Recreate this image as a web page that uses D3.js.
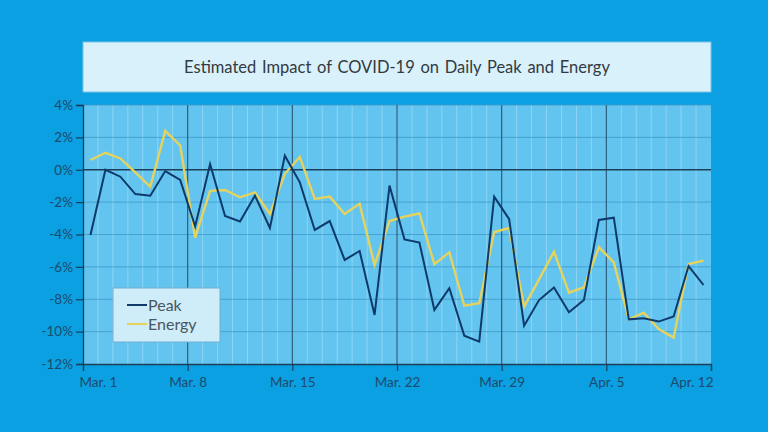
<!DOCTYPE html>
<html>
<head>
<meta charset="utf-8">
<script src="https://cdn.jsdelivr.net/npm/d3@7"></script>
<style>
  body { margin: 0; background: #0AA0E1; }
  text { font-family: Lato, "Open Sans", sans-serif; }
</style>
</head>
<body>
<script>
// Chart data (percent change vs. expected), one value per day, Mar. 1 - Apr. 11
var titleText = "Estimated Impact of COVID-19 on Daily Peak and Energy";
var seriesNames = ["Peak", "Energy"];
var weekLabels = ["Mar. 1", "Mar. 8", "Mar. 15", "Mar. 22", "Mar. 29", "Apr. 5", "Apr. 12"];
var yTicks = [4, 2, 0, -2, -4, -6, -8, -10, -12];

var peak = [
  -4.03, 0.0, -0.43, -1.5, -1.6, -0.08, -0.63,
  -3.5, 0.34, -2.86, -3.2, -1.6, -3.6, 0.87,
  -0.78, -3.72, -3.17, -5.57, -5.02, -8.97, -0.98,
  -4.3, -4.5, -8.66, -7.32, -10.25, -10.62, -1.66,
  -3.05, -9.63, -8.05, -7.28, -8.8, -8.05, -3.1,
  -2.96, -9.24, -9.18, -9.38, -9.07, -5.95, -7.12
];
var energy = [
  0.6, 1.05, 0.7, -0.16, -1.05, 2.4, 1.5,
  -4.2, -1.3, -1.25, -1.7, -1.4, -2.73, -0.25,
  0.79, -1.8, -1.66, -2.73, -2.1, -5.88, -3.17,
  -2.9, -2.7, -5.84, -5.1, -8.4, -8.25, -3.85,
  -3.6, -8.46, -6.77, -5.06, -7.59, -7.26, -4.79,
  -5.72, -9.24, -8.83, -9.84, -10.37, -5.82, -5.61
];

// SVG area
var svgWidth = 768;
var svgHeight = 432;
var plot = { left: 83, right: 711, top: 105, bottom: 364 };

var svg = d3.select("body")
  .append("svg")
  .attr("width", svgWidth)
  .attr("height", svgHeight);

svg.append("rect")
  .attr("width", svgWidth)
  .attr("height", svgHeight)
  .attr("fill", "#0AA0E1");

// Title box
svg.append("rect")
  .attr("x", plot.left)
  .attr("y", 42)
  .attr("width", plot.right - plot.left)
  .attr("height", 50)
  .attr("fill", "#D9F1FB")
  .attr("stroke", "#7CC3E6")
  .attr("stroke-width", 1);

svg.append("text")
  .attr("x", (plot.left + plot.right) / 2)
  .attr("y", 73)
  .attr("text-anchor", "middle")
  .attr("font-size", 16.5)
  .attr("fill", "#333a40")
  .attr("word-spacing", 1.5)
  .text(titleText);

// Scales: one band per day, grid lines on the day boundaries
var nDays = peak.length;
var x = d3.scaleLinear().domain([0, nDays]).range([plot.left, plot.right]);
var y = d3.scaleLinear().domain([-12, 4]).range([plot.bottom, plot.top]);

// Plot background
svg.append("rect")
  .attr("x", plot.left)
  .attr("y", plot.top)
  .attr("width", plot.right - plot.left)
  .attr("height", plot.bottom - plot.top)
  .attr("fill", "#63C4EF");

// daily gridlines (light)
svg.append("g")
  .selectAll("line")
  .data(d3.range(1, nDays))
  .enter()
  .append("line")
  .attr("x1", function(d) { return x(d); })
  .attr("x2", function(d) { return x(d); })
  .attr("y1", plot.top)
  .attr("y2", plot.bottom)
  .attr("stroke", "#ffffff")
  .attr("stroke-opacity", 0.28)
  .attr("stroke-width", 1);

// horizontal gridlines at each 2%
svg.append("g")
  .selectAll("line")
  .data(yTicks.filter(function(d) { return d !== 0 && d !== -12; }))
  .enter()
  .append("line")
  .attr("x1", plot.left)
  .attr("x2", plot.right)
  .attr("y1", function(d) { return y(d); })
  .attr("y2", function(d) { return y(d); })
  .attr("stroke", "#3E9ACB")
  .attr("stroke-opacity", 0.8)
  .attr("stroke-width", 1);

// weekly lines (dark)
var weekIdx = weekLabels.map(function(d, i) { return i * 7; });
svg.append("g")
  .selectAll("line")
  .data(weekIdx.slice(1, weekIdx.length - 1))
  .enter()
  .append("line")
  .attr("x1", function(d) { return x(d); })
  .attr("x2", function(d) { return x(d); })
  .attr("y1", plot.top)
  .attr("y2", plot.bottom)
  .attr("stroke", "#2B5B7C")
  .attr("stroke-width", 1.2);

// zero line
svg.append("line")
  .attr("x1", plot.left)
  .attr("x2", plot.right)
  .attr("y1", y(0))
  .attr("y2", y(0))
  .attr("stroke", "#1C3E58")
  .attr("stroke-width", 1.5);

// Y axis
var yAxis = d3.axisLeft(y)
  .tickValues(yTicks)
  .tickSize(7)
  .tickPadding(3)
  .tickFormat(function(d) { return d + "%"; });

var yG = svg.append("g")
  .attr("transform", "translate(" + plot.left + ",0)")
  .call(yAxis);
yG.select(".domain").attr("stroke", "#1C3E58").attr("stroke-width", 1.3);
yG.selectAll(".tick line").attr("stroke", "#1C3E58").attr("stroke-width", 1.2);
yG.selectAll(".tick text")
  .attr("font-size", 13.5)
  .attr("fill", "#1F4A6E")
  .style("font-family", "Lato, 'Open Sans', sans-serif");

// X axis
var xAxis = d3.axisBottom(x)
  .tickValues(weekIdx)
  .tickSize(7)
  .tickPadding(6)
  .tickFormat(function(d, i) { return weekLabels[i]; });

var xG = svg.append("g")
  .attr("transform", "translate(0," + plot.bottom + ")")
  .call(xAxis);
xG.select(".domain").attr("stroke", "#1C3E58").attr("stroke-width", 1.3);
xG.selectAll(".tick line").attr("stroke", "#1C3E58").attr("stroke-width", 1.2);
xG.selectAll(".tick text")
  .attr("font-size", 13.5)
  .attr("fill", "#1F4A6E")
  .style("font-family", "Lato, 'Open Sans', sans-serif")
  .attr("text-anchor", function(d, i) {
    if (i === 0) return "start";
    if (i === weekLabels.length - 1) return "end";
    return "middle";
  })
  .attr("dx", function(d, i) {
    if (i === 0) return -4;
    if (i === weekLabels.length - 1) return 2;
    return 0;
  });

// Lines
var line = d3.line()
  .x(function(d, i) { return x(i + 0.5); })
  .y(function(d) { return y(d); });

svg.append("path")
  .datum(energy)
  .attr("d", line)
  .attr("fill", "none")
  .attr("stroke", "#E6D35E")
  .attr("stroke-width", 2.4)
  .attr("stroke-linejoin", "miter");

svg.append("path")
  .datum(peak)
  .attr("d", line)
  .attr("fill", "none")
  .attr("stroke", "#0D3A6B")
  .attr("stroke-width", 2)
  .attr("stroke-linejoin", "miter");

// Legend
var legend = svg.append("g").attr("transform", "translate(113,288)");
legend.append("rect")
  .attr("width", 107)
  .attr("height", 54)
  .attr("fill", "#CFECF9")
  .attr("stroke", "#6FAFD4")
  .attr("stroke-width", 1);

var legendColors = ["#0D3A6B", "#E6D35E"];
seriesNames.forEach(function(name, i) {
  var ly = 17 + i * 19;
  legend.append("line")
    .attr("x1", 14)
    .attr("x2", 34)
    .attr("y1", ly)
    .attr("y2", ly)
    .attr("stroke", legendColors[i])
    .attr("stroke-width", 2);
  legend.append("text")
    .attr("x", 35)
    .attr("y", ly + 5.5)
    .attr("font-size", 16)
    .attr("fill", "#4A5660")
    .text(name);
});
</script>
</body>
</html>
